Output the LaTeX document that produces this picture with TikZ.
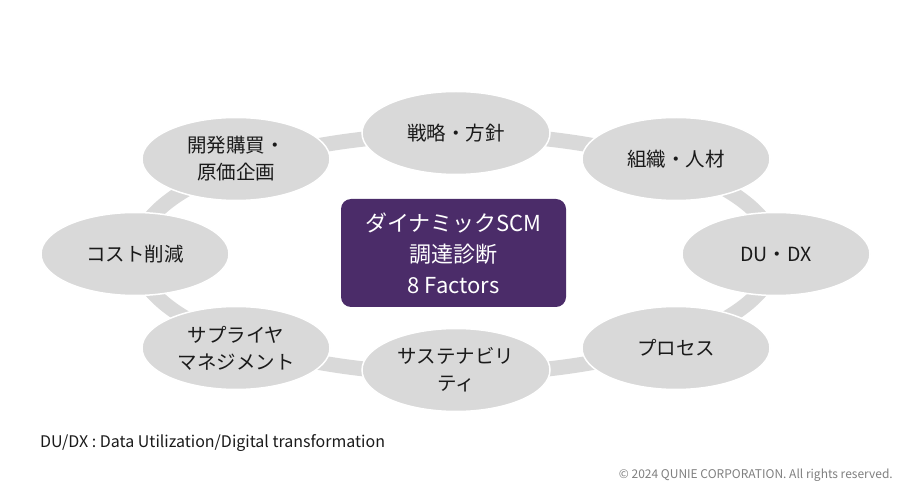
\documentclass[tikz,border=0pt]{standalone}
\usepackage{fontspec}
\usepackage{xcolor}
\usepackage{tikz}
\usetikzlibrary{shapes.geometric}
\newfontfamily\jpfont{Noto Sans CJK JP}
\definecolor{cRing}{HTML}{D9D9D9}
\definecolor{cFactor}{HTML}{D9D9D9}
\definecolor{cCore}{HTML}{4B2C69}
\definecolor{cText}{HTML}{1A1A1A}
\definecolor{cNote}{HTML}{7F7F7F}
\tikzset{
  ring/.style={draw=cRing, line width=15pt},
  factor/.style={ellipse, draw=white, line width=1.5pt, fill=cFactor,
                 minimum width=188pt, minimum height=83pt, inner sep=0pt,
                 font=\jpfont\fontsize{19.5}{27}\selectfont, text=cText, align=center},
  core/.style={rectangle, rounded corners=10pt, fill=cCore, text=white,
               minimum width=225pt, minimum height=108pt, inner sep=0pt,
               font=\jpfont\fontsize{22}{31}\selectfont, align=center},
  note/.style={font=\jpfont\fontsize{16}{18}\selectfont, text=cText, inner sep=0pt},
  copy/.style={font=\jpfont\fontsize{12}{14}\selectfont, text=cNote, inner sep=0pt}
}
\begin{document}
\begin{tikzpicture}[x=1pt, y=-1pt]
\useasboundingbox (0,0) rectangle (900,486);
% Ring behind the factors
\draw[ring] (456,254) ellipse [x radius=320pt, y radius=120pt];
% Eight factors
\node[factor] (strategy) at (456,133) {戦略・方針};
\node[factor] (org) at (676,159) {組織・人材};
\node[factor] (dudx) at (776,254) {DU・DX};
\node[factor] (process) at (676,348) {プロセス};
\node[factor] (sustain) at (456,370) {サステナビリ\\ティ};
\node[factor] (supplier) at (236,348) {サプライヤ\\マネジメント};
\node[factor] (cost) at (135,254) {コスト削減};
\node[factor] (devbuy) at (236,159) {開発購買・\\原価企画};
% Centre
\node[core] (core) at (453.5,253) {ダイナミックSCM\\調達診断\\8 Factors};
% Notes
\node[note, anchor=west] (abbr) at (40,443) {DU/DX : Data Utilization/Digital transformation};
\node[copy, anchor=east] (copyright) at (893,475) {© 2024 QUNIE CORPORATION. All rights reserved.};
\end{tikzpicture}
\end{document}
